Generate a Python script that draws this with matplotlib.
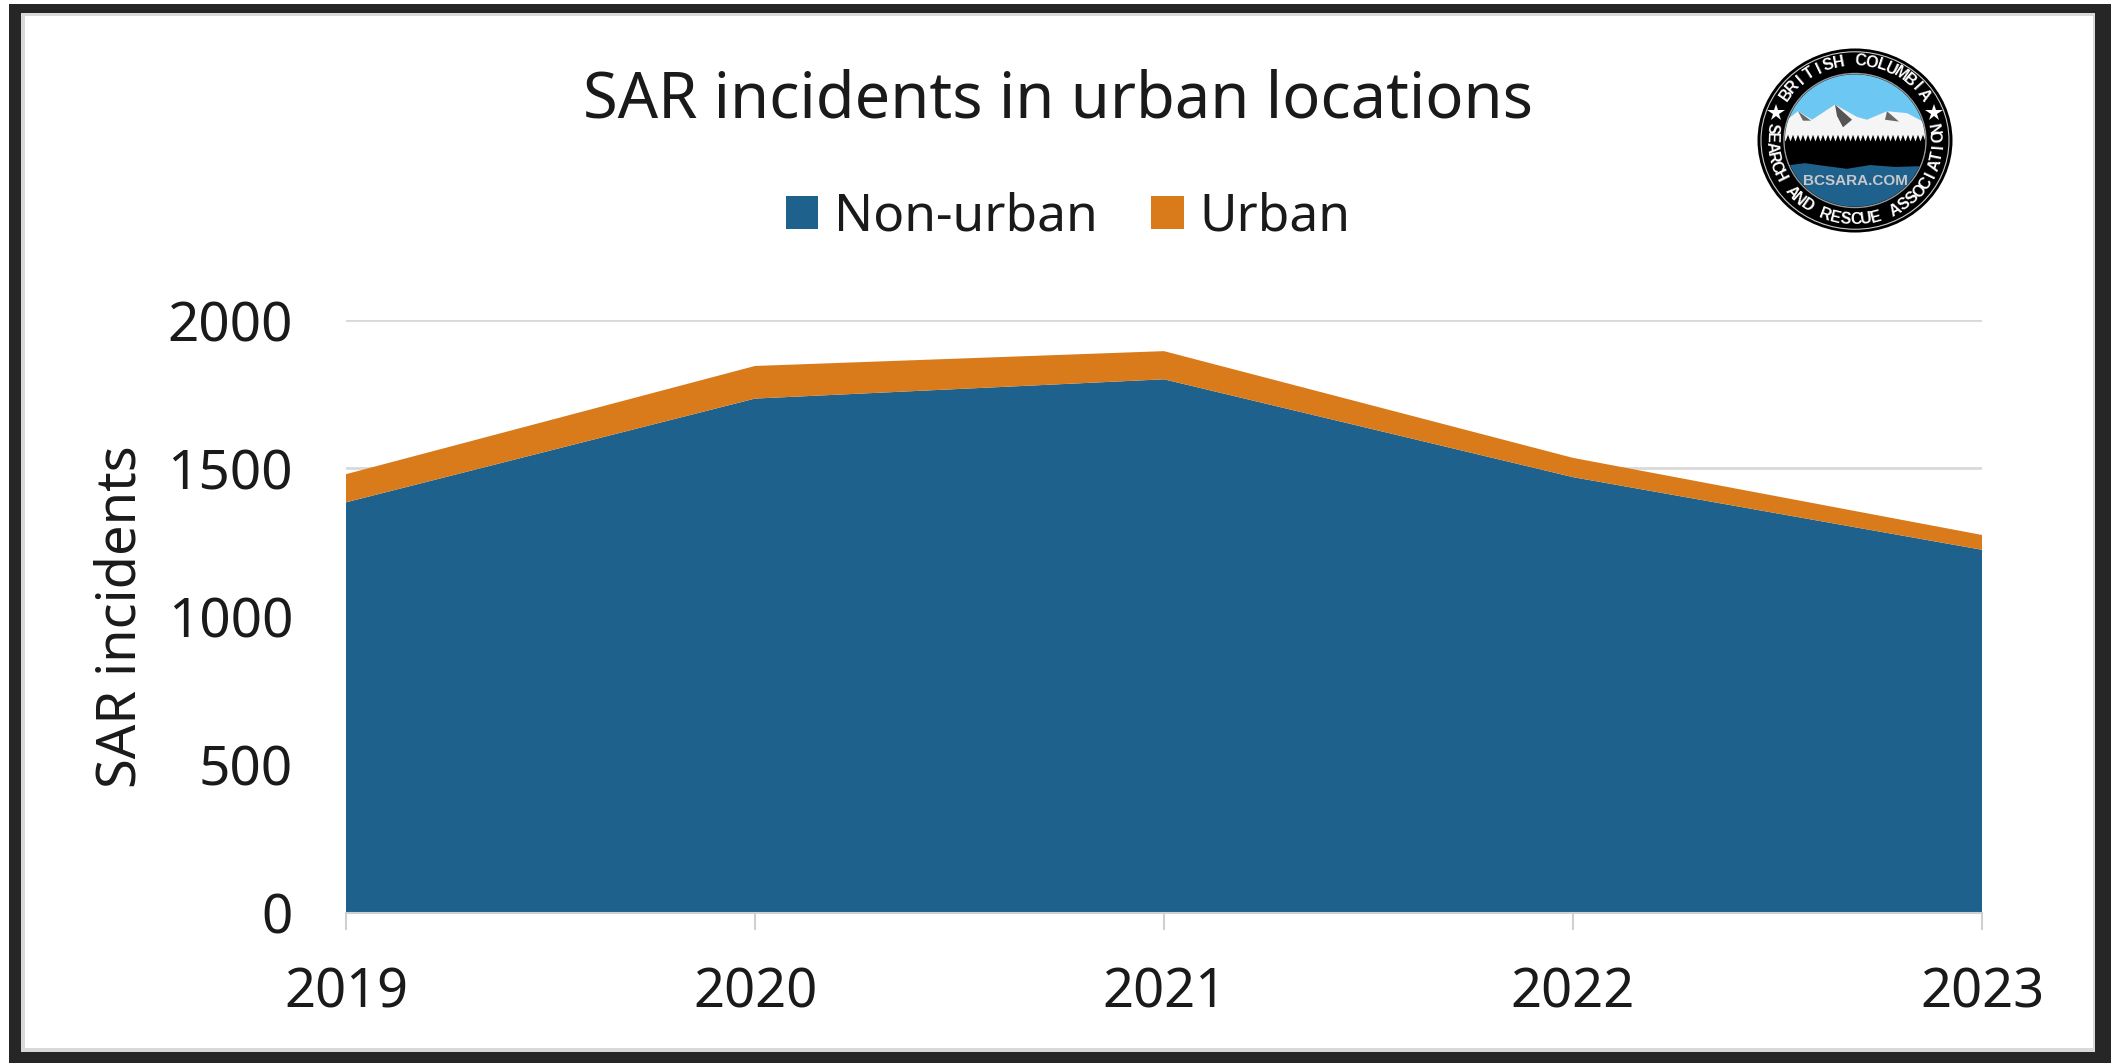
import numpy as np
import matplotlib
matplotlib.use("Agg")
import matplotlib.pyplot as plt
from matplotlib.patches import Rectangle, Circle, Polygon

plt.rcParams['font.family'] = ['Noto Sans', 'DejaVu Sans']

years = ['2019', '2020', '2021', '2022', '2023']
non_urban = [1385, 1735, 1800, 1470, 1225]
urban = [95, 110, 95, 65, 50]
yticks = [0, 500, 1000, 1500, 2000]

W, H = 2115, 1063
fig = plt.figure(figsize=(W / 100, H / 100), dpi=100, facecolor='white')

# dark frame around the screenshot
bg = fig.add_axes([0, 0, 1, 1], zorder=0)
bg.set_xlim(0, W)
bg.set_ylim(H, 0)
bg.axis('off')
bg.add_patch(Rectangle((9, 4), 2102, 1059, color='#262626', lw=0))
bg.add_patch(Rectangle((21, 13), 2074, 1039, color='#d9d9d9', lw=0))
bg.add_patch(Rectangle((25, 16), 2068, 1032, color='white', lw=0))

ax = fig.add_axes([346 / W, 1 - 913 / H, (1982 - 346) / W, (913 - 320) / H], zorder=1)
ax.patch.set_alpha(0)
x = np.arange(len(years))
ax.stackplot(x, non_urban, urban, colors=['#1f618d', '#d97b1a'], labels=['Non-urban', 'Urban'], zorder=2, lw=0)
ax.set_xlim(0, 4)
ax.set_ylim(0, 2000)
ax.set_xticks(x)
ax.set_xticklabels(years)
ax.set_yticks(yticks)
ax.grid(axis='y', color='#d9d9d9', lw=2, zorder=1)
ax.set_axisbelow(True)
for s in ['top', 'right', 'left']:
    ax.spines[s].set_visible(False)
ax.spines['bottom'].set_color('#d0d0d0')
ax.spines['bottom'].set_linewidth(1.5)
ax.tick_params(axis='x', length=12, width=1.5, color='#d0d0d0', labelsize=39, pad=26, labelcolor='#1a1a1a')
ax.tick_params(axis='y', length=0, labelsize=39.5, pad=38, labelcolor='#1a1a1a')
ax.set_ylabel('SAR incidents', fontsize=39, color='#1a1a1a')
ax.yaxis.set_label_coords((149 - 346) / (1982 - 346), 0.5)

fig.text(1058 / W, 1 - 100 / H, 'SAR incidents in urban locations', fontsize=45.5, color='#1a1a1a', ha='center', va='center')

# legend
handles, labels = ax.get_legend_handles_labels()
fig.legend(handles, labels, loc='center', bbox_to_anchor=(1068 / W, 1 - 217 / H), ncol=2, frameon=False,
           fontsize=37, labelcolor='#1a1a1a', handlelength=0.63, handleheight=0.63, handletextpad=0.3, columnspacing=1.05)

# BCSARA logo, slightly squashed like in the original
cx, cy, rx, ry = 1855, 140.5, 98, 92.5
logo = fig.add_axes([(cx - rx) / W, 1 - (cy + ry) / H, 2 * rx / W, 2 * ry / H], zorder=3)
logo.set_xlim(-98, 98)
logo.set_ylim(-98, 98)
logo.axis('off')
logo.add_patch(Circle((0, 0), 97.5, color='black', lw=0))
logo.add_patch(Circle((0, 0), 94, fill=False, ec='#cccccc', lw=0.8))
logo.add_patch(Circle((0, 0), 71, color='black', ec='#999999', lw=1))
clip = Circle((0, 0), 70, transform=logo.transData)
sky = logo.add_patch(Rectangle((-72, 0), 144, 72, color='#6cc8f2', lw=0))
mountain = logo.add_patch(Polygon([(-72, 18), (-68, 22), (-57, 31), (-43, 22), (-20, 38), (2, 25), (12, 22), (32, 31),
                                   (52, 29), (68, 20), (72, 16), (72, -4), (-72, -4)], color='#f5f5f5', lw=0))
rock = logo.add_patch(Polygon([(-20, 38), (-3, 22), (-12, 14), (-18, 26)], color='#555555', lw=0))
rock2 = logo.add_patch(Polygon([(32, 31), (44, 20), (30, 22)], color='#666666', lw=0))
rock3 = logo.add_patch(Polygon([(-57, 31), (-44, 21), (-52, 21)], color='#666666', lw=0))
tree_x = np.arange(-72, 73, 2.5)
tree_y = np.where(np.arange(len(tree_x)) % 2 == 0, 6, -1)
trees = logo.add_patch(Polygon(list(zip(tree_x, tree_y)) + [(72, -30), (-72, -30)], color='black', lw=0))
water = logo.add_patch(Polygon([(-72, -27), (-50, -24), (-30, -27), (-8, -30), (15, -26), (40, -28), (72, -27),
                                (72, -72), (-72, -72)], color='#1f618d', lw=0))
for p in [sky, mountain, rock, rock2, rock3, trees, water]:
    p.set_clip_path(clip)
logo.text(0, -43, 'BCSARA.COM', color='#c8c8c8', fontsize=11, fontweight='bold', family='Liberation Sans', ha='center', va='center')


def ring_text(txt, start, stop, rad, flip):
    angles = np.linspace(start, stop, len(txt))
    for ch, a in zip(txt, angles):
        t = np.deg2rad(a)
        rot = a + 90 if flip else a - 90
        logo.text(rad * np.cos(t), rad * np.sin(t), ch, color='white', fontsize=11.5, fontweight='bold',
                  family='Liberation Sans', ha='center', va='center', rotation=rot, rotation_mode='anchor')


ring_text('BRITISH COLUMBIA', 145, 35, 84, False)
ring_text('SEARCH AND RESCUE ASSOCIATION', 171, 370, 84, True)
for a in [160, 20]:
    logo.plot(84 * np.cos(np.deg2rad(a)), 84 * np.sin(np.deg2rad(a)), marker='*', ms=13, color='white', mew=0)

fig.savefig('out.png', dpi=100)
